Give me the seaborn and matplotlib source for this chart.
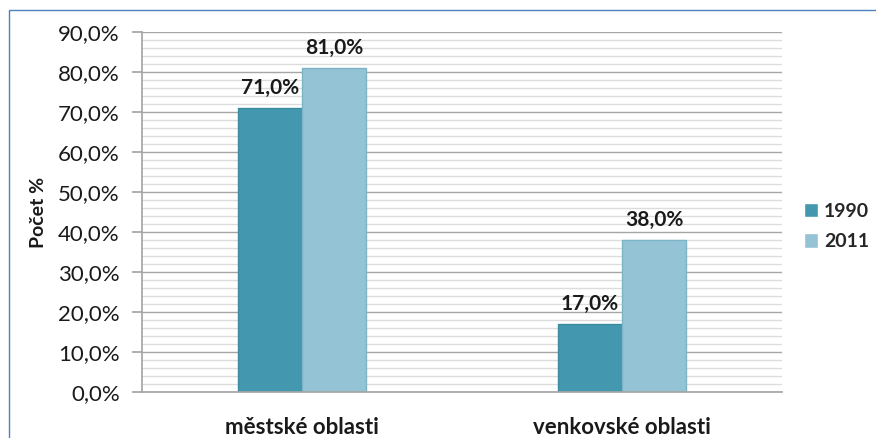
import matplotlib
matplotlib.use("Agg")
import matplotlib.pyplot as plt
import pandas as pd
import seaborn as sns
from matplotlib.ticker import MultipleLocator, FuncFormatter
from matplotlib.patches import Rectangle

# data
oblasti = ["městské oblasti", "venkovské oblasti"]
roky = ["1990", "2011"]
hodnoty_1990 = [71.0, 17.0]
hodnoty_2011 = [81.0, 38.0]
barvy = ["#4398AF", "#93C3D5"]
okraje = ["#3A8AA0", "#7DB3C7"]

df = pd.DataFrame({
    "oblast": oblasti * 2,
    "rok": [roky[0]] * 2 + [roky[1]] * 2,
    "hodnota": hodnoty_1990 + hodnoty_2011,
})

sns.set_theme(style="white")
plt.rcParams["font.family"] = ["Lato", "DejaVu Sans"]

fig = plt.figure(figsize=(8.76, 4.38), dpi=100)
ax = fig.add_axes([142 / 876, 1 - 392 / 438, 640 / 876, 360 / 438])

sns.barplot(data=df, x="oblast", y="hodnota", hue="rok", palette=barvy,
            width=0.4, ax=ax, saturation=1)

# okraje sloupcu + popisky
for cont, ec in zip(ax.containers, okraje):
    for b in cont:
        b.set_edgecolor(ec)
        b.set_linewidth(1)
    ax.bar_label(cont, labels=[f"{v:.1f}%".replace(".", ",") for v in cont.datavalues],
                 padding=7, fontsize=15, fontweight="bold", color="#1a1a1a")

ax.set_ylim(0, 90)
ax.set_xlim(-0.5, 1.5)
ax.yaxis.set_major_locator(MultipleLocator(10))
ax.yaxis.set_minor_locator(MultipleLocator(2))
ax.yaxis.set_major_formatter(FuncFormatter(lambda v, p: f"{v:.1f}%".replace(".", ",")))
ax.grid(True, which="major", axis="y", color="#a6a6a6", linewidth=1)
ax.grid(True, which="minor", axis="y", color="#dcdcdc", linewidth=1)
ax.set_axisbelow(True)

for s in ["top", "right"]:
    ax.spines[s].set_visible(False)
ax.spines["left"].set_color("#a6a6a6")
ax.spines["bottom"].set_color("#a6a6a6")

ax.tick_params(axis="y", which="major", left=True, length=7, color="#a6a6a6",
               labelsize=16, pad=9, labelcolor="#1a1a1a")
ax.tick_params(axis="y", which="minor", left=False)
ax.tick_params(axis="x", bottom=False, labelsize=16, pad=12, labelcolor="#1a1a1a")
for t in ax.get_xticklabels():
    t.set_fontweight("bold")

ax.set_xlabel("")
ax.set_ylabel("Počet %", fontsize=14, fontweight="bold", labelpad=8, color="#1a1a1a")

leg = ax.legend(loc="center left", bbox_to_anchor=(1.034, 0.46), frameon=False,
                fontsize=14, handlelength=0.75, handleheight=0.75, handletextpad=0.3,
                labelspacing=0.7, borderpad=0, borderaxespad=0)
for t in leg.get_texts():
    t.set_fontweight("bold")

# ramecek grafu
fig.patches.append(Rectangle((9 / 876, -0.05), 1.2, 1 - 10 / 438 + 0.05,
                             transform=fig.transFigure, fill=False,
                             edgecolor="#4f81bd", linewidth=1))

fig.savefig("out.png", dpi=100)
